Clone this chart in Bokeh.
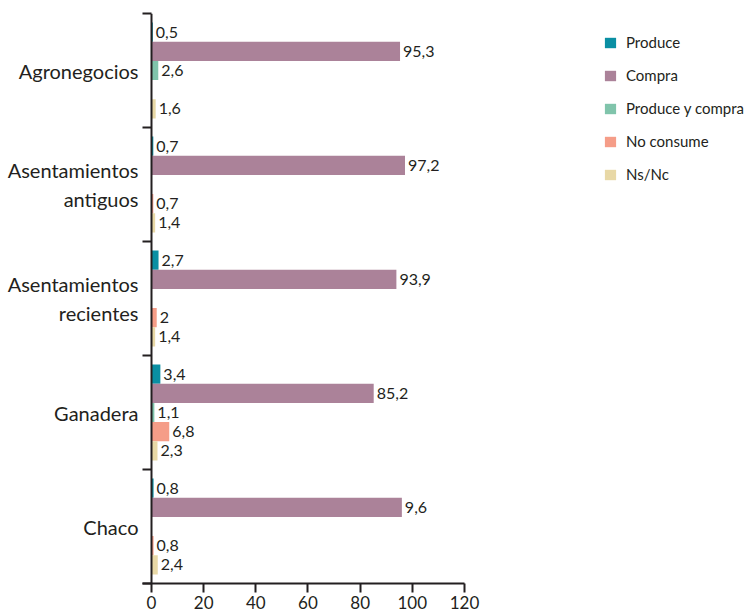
from bokeh.plotting import figure
from bokeh.models import (ColumnDataSource, Range1d, FixedTicker, Span, Legend, LegendItem)
from bokeh.core.properties import value
from bokeh.embed import file_html
from bokeh.resources import INLINE

# ---- data ----
groups = ["Agronegocios", "Asentamientos\nantiguos", "Asentamientos\nrecientes", "Ganadera", "Chaco"]
series_names = ["Produce", "Compra", "Produce y compra", "No consume", "Ns/Nc"]
produce = [0.5, 0.7, 2.7, 3.4, 0.8]
compra = [95.3, 97.2, 93.9, 85.2, 96.0]
produce_compra = [2.6, None, None, 1.1, None]
no_consume = [None, 0.7, 2.0, 6.8, 0.8]
nsnc = [1.6, 1.4, 1.4, 2.3, 2.4]
# printed labels as they appear in the source (Chaco/Compra printed as "9,6")
compra_printed = ["95,3", "97,2", "93,9", "85,2", "9,6"]
x_ticks = [0, 20, 40, 60, 80, 100, 120]

series_values = [produce, compra, produce_compra, no_consume, nsnc]
series_colors = ["#0a8fa3", "#ab8299", "#80c4ab", "#f59d88", "#e8d8a6"]

FONT = "Lato"
TXT = "#231f20"


def fmt(v):
    s = f"{v:.1f}"
    if s.endswith(".0"):
        s = s[:-2]
    return s.replace(".", ",")


n = len(groups)
centers = [n - i - 0.5 for i in range(n)]
bar_h = 0.168

px_per_unit = 2.608
frame_left_px = 142
W, H = 749, 611
x_start = -3.45
x_end = x_start + (W - frame_left_px) / px_per_unit

p = figure(width=W, height=H, output_backend="svg", toolbar_location=None,
           x_range=Range1d(x_start, x_end), y_range=Range1d(0, n),
           min_border_left=frame_left_px, min_border_top=13, min_border_right=0,
           min_border_bottom=10)
p.outline_line_color = None
p.xgrid.visible = False
p.ygrid.visible = False
p.background_fill_color = "white"

items = []
for j, (name, vals, col) in enumerate(zip(series_names, series_values, series_colors)):
    off = (2 - j) * bar_h
    ys, xs, labs = [], [], []
    for i, v in enumerate(vals):
        if v is None:
            continue
        ys.append(centers[i] + off)
        xs.append(v)
        labs.append(compra_printed[i] if name == "Compra" else fmt(v))
    src = ColumnDataSource(dict(y=ys, x=xs, lab=labs))
    r = p.hbar(y="y", right="x", left=0, height=bar_h, source=src,
               fill_color=col, line_color=None)
    p.text(x="x", y="y", text="lab", source=src, x_offset=3,
           text_baseline="middle", text_align="left",
           text_font=value(FONT), text_font_size="16px", text_color=TXT)
    items.append(LegendItem(label=name, renderers=[r]))

# vertical axis line at x = 0
p.add_layout(Span(location=0, dimension="height", line_color=TXT, line_width=2))

# x axis
xa = p.xaxis[0]
xa.ticker = FixedTicker(ticks=x_ticks)
xa.bounds = (x_start, 120)
xa.axis_line_color = TXT
xa.axis_line_width = 2
xa.major_tick_line_color = TXT
xa.major_tick_line_width = 2
xa.major_tick_in = 0
xa.major_tick_out = 9
xa.minor_tick_line_color = None
xa.major_label_standoff = 3
xa.major_label_text_font = FONT
xa.major_label_text_font_size = "17px"
xa.major_label_text_color = TXT

# y axis: labels at group centres, ticks at group boundaries
ya = p.yaxis[0]
ya.ticker = FixedTicker(ticks=centers, minor_ticks=list(range(n + 1)))
ya.major_label_overrides = {c: g for c, g in zip(centers, groups)}
ya.axis_line_color = None
ya.major_tick_line_color = None
ya.major_tick_in = 0
ya.major_tick_out = 0
ya.minor_tick_line_color = TXT
ya.minor_tick_line_width = 2
ya.minor_tick_in = 9
ya.minor_tick_out = 0
ya.major_label_standoff = 4
ya.major_label_text_font = FONT
ya.major_label_text_font_size = "20px"
ya.major_label_text_color = TXT
ya.major_label_text_align = "right"
ya.major_label_text_line_height = 1.2

legend = Legend(items=items, location=(461, 400), orientation="vertical",
                border_line_color=None, background_fill_alpha=0,
                label_text_font=FONT, label_text_font_size="15px",
                label_text_color=TXT, glyph_width=14, glyph_height=13,
                label_height=14, spacing=15, padding=0, margin=0,
                label_standoff=9)
p.add_layout(legend)

open("out.html", "w").write(file_html(p, INLINE))
